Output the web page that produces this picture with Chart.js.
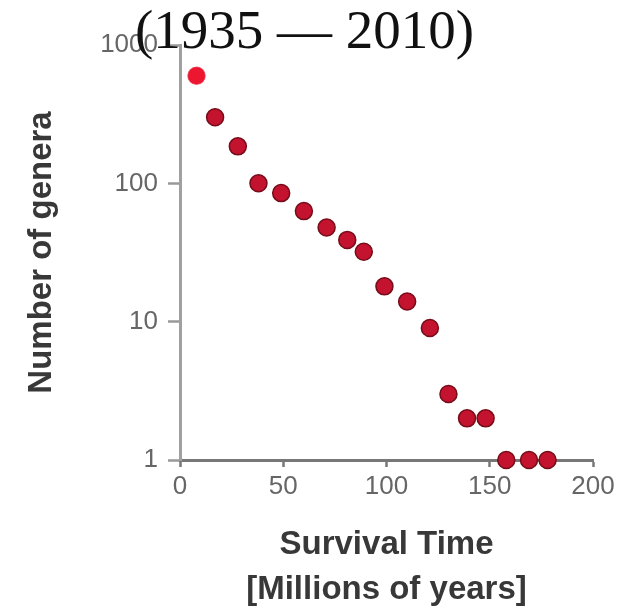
<!DOCTYPE html>
<html>
<head>
<meta charset="utf-8">
<script src="https://cdn.jsdelivr.net/npm/chart.js@4/dist/chart.umd.min.js"></script>
<style>
  html, body { margin: 0; padding: 0; background: #ffffff; }
  #wrap { position: relative; width: 621px; height: 609px; }
  #chart { position: absolute; left: 0; top: 0; filter: blur(0.6px); }
  #period {
    position: absolute; left: 135px; top: 2px;
    font-family: "Liberation Serif", serif; font-size: 55px; line-height: 55px;
    color: #111; white-space: nowrap;
  }
</style>
</head>
<body>
<div id="wrap">
  <canvas id="chart" width="621" height="609"></canvas>
  <div id="period">(1935 — 2010)</div>
</div>
<script>
// Survival time of genera (millions of years) and number of genera surviving that long
const survivalTime = [8, 17, 28, 38, 49, 60, 71, 81, 89, 99, 110, 121, 130, 139, 148, 158, 169, 178];
const generaCount  = [600, 300, 185, 100, 85, 63, 48, 39, 32, 18, 14, 9, 3, 2, 2, 1, 1, 1];
const xTickValues  = [0, 50, 100, 150, 200];
const yTickValues  = [1, 10, 100, 1000];

const points = survivalTime.map((t, i) => ({ x: t, y: generaCount[i] }));

const tickFont = { family: "'Liberation Sans', Arial, sans-serif", size: 26 };
const titleFont = { family: "'Liberation Sans', Arial, sans-serif", size: 33, weight: 'bold' };

new Chart(document.getElementById('chart'), {
  type: 'scatter',
  data: {
    datasets: [{
      data: points,
      pointRadius: 8.5,
      pointHoverRadius: 8.5,
      pointBackgroundColor: points.map((p, i) => i === 0 ? '#ec1630' : '#c4132e'),
      pointBorderColor: points.map((p, i) => i === 0 ? 'rgba(236,22,48,0.7)' : '#760c19'),
      pointBorderWidth: 1.5,
      clip: false
    }]
  },
  options: {
    responsive: false,
    animation: false,
    layout: { padding: { left: 0, top: 45, right: 28, bottom: 0 } },
    plugins: { legend: { display: false }, tooltip: { enabled: false } },
    scales: {
      x: {
        type: 'linear',
        min: 0, max: 200,
        afterBuildTicks: s => { s.ticks = xTickValues.map(v => ({ value: v })); },
        afterFit: s => { s.height = 149; },
        ticks: { font: tickFont, color: '#666', padding: 4, maxRotation: 0 },
        grid: { display: true, drawOnChartArea: false, drawTicks: true, tickLength: 7, tickWidth: 2.5, tickColor: '#777' },
        border: { display: true, color: '#777', width: 3 },
        title: {
          display: true,
          text: ['Survival Time', '[Millions of years]'],
          font: Object.assign({ lineHeight: 1.38 }, titleFont),
          color: '#383838',
          padding: { top: 0, bottom: -4 }
        }
      },
      y: {
        type: 'logarithmic',
        min: 1, max: 1000,
        afterBuildTicks: s => { s.ticks = yTickValues.map(v => ({ value: v, major: true })); },
        afterFit: s => { s.width = 180; },
        ticks: { font: tickFont, color: '#666', padding: 10, callback: v => String(v) },
        grid: { display: true, drawOnChartArea: false, drawTicks: true, tickLength: 12, tickWidth: 2.5, tickColor: '#999' },
        border: { display: true, color: '#a0a0a0', width: 3 },
        title: {
          display: true,
          text: 'Number of genera',
          font: Object.assign({ lineHeight: 1.2 }, titleFont),
          color: '#383838',
          padding: { top: 22, bottom: 0 }
        }
      }
    }
  }
});
</script>
</body>
</html>
